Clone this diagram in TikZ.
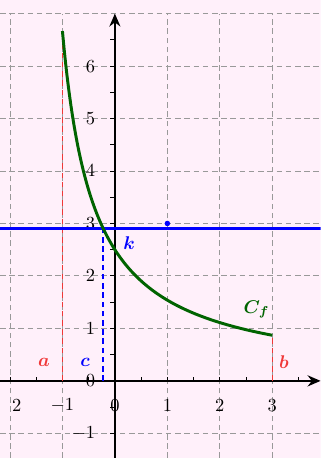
\documentclass[tikz,border=0pt]{standalone}
\usetikzlibrary{arrows.meta}
\definecolor{bgpink}{HTML}{FFF0FA}
\definecolor{gridgray}{HTML}{999999}
\definecolor{myred}{HTML}{F03838}
\definecolor{mygreen}{HTML}{006400}
\definecolor{myblue}{HTML}{0000FF}
\tikzset{
  gridline/.style={gridgray, dash pattern=on 3pt off 2pt, line width=0.5pt},
  axisline/.style={black, line width=1.1pt, -{Stealth[length=7pt,width=6pt]}},
  ticklab/.style={font=\normalsize, inner sep=0pt},
  redlab/.style={myred, font=\boldmath, inner sep=0pt},
  bluelab/.style={myblue, font=\boldmath, inner sep=0pt},
  reddash/.style={myred, dash pattern=on 3pt off 2pt, line width=0.8pt},
  bluedash/.style={myblue, dash pattern=on 3pt off 2pt, line width=1.2pt},
}
\begin{document}
\begin{tikzpicture}
\useasboundingbox (-2.19,-1.47) rectangle (3.92,7.26);
\clip (-2.19,-1.47) rectangle (3.92,7.26);
\fill[bgpink] (-2.19,-1.47) rectangle (3.92,7.26);
\draw[gridline] (-2.19,-1.47) grid (3.92,7);
% minor ticks
\foreach \x in {-2,-1.5,...,3.5} \draw[line width=0.5pt] (\x,0) -- (\x,0.08);
\foreach \y in {-1,-0.5,...,6.5} \draw[line width=0.5pt] (0,\y) -- (-0.1,\y);
% axes
\coordinate (xs) at (-2.19,0);
\coordinate (xe) at (3.92,0);
\coordinate (ys) at (0,-1.47);
\coordinate (ye) at (0,7);
\draw[axisline] (xs) -- (xe);
\draw[axisline] (ys) -- (ye);
% tick labels
\node[ticklab] (xl-2) at (-1.87,-0.47) {$2$};
\foreach \x in {-1,0,1,2,3} \node[ticklab] (xl\x) at (\x,-0.47) {$\x$};
\foreach \y in {-1,0,1,2,3,4,5,6} \node[ticklab, anchor=east] (yl\y) at (-0.37,\y) {$\y$};
% vertical dashed
\coordinate (a0) at (-1,0); \coordinate (a1) at (-1,{4/0.6});
\coordinate (b0) at (3,0); \coordinate (b1) at (3,{4/4.6});
\coordinate (c0) at (-0.22,0); \coordinate (c1) at (-0.22,2.9);
\draw[reddash] (a0) -- (a1);
\draw[reddash] (b0) -- (b1);
\draw[bluedash] (c0) -- (c1);
% horizontal line k
\coordinate (k0) at (-2.19,2.9); \coordinate (k1) at (3.92,2.9);
\draw[myblue, line width=1.4pt] (k0) -- (k1);
% curve
\draw[mygreen, line width=1.6pt, domain=-1:3, samples=100, smooth] plot (\x,{4/(\x+1.6)});
% point
\fill[myblue] (1,3) circle (1.5pt);
\node[coordinate] (pt) at (1,3) {};
% labels
\node[redlab] (la) at (-1.35,0.36) {$a$};
\node[bluelab] (lc) at (-0.57,0.36) {$c$};
\node[redlab] (lb) at (3.22,0.36) {$b$};
\node[bluelab] (lk) at (0.27,2.63) {$k$};
\node[mygreen, font=\boldmath, inner sep=0pt] (lcf) at (2.7,1.36) {$C_f$};
\end{tikzpicture}
\end{document}
